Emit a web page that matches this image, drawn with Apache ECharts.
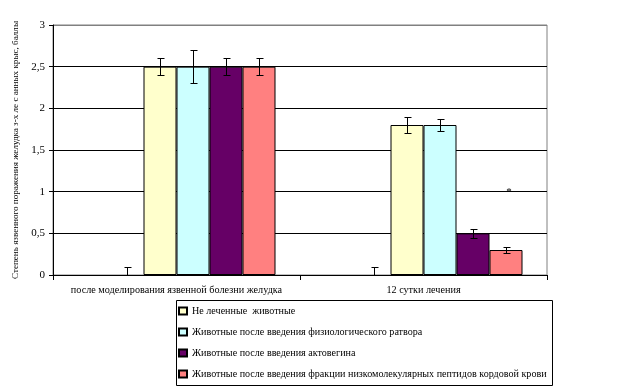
<!DOCTYPE html>
<html><head><meta charset="utf-8">
<script src="https://cdn.jsdelivr.net/npm/echarts@6/dist/echarts.min.js"></script>
<style>html,body{margin:0;padding:0;background:#fff}#c{width:622px;height:387px}</style>
</head><body><div id="c"></div>
<script>
// ---- data ----
const categories = ['после моделирования язвенной болезни желудка', '12 сутки лечения'];
const seriesNames = [
  'Не леченные  животные',
  'Животные после введения физиологического ратвора',
  'Животные после введения актовегина',
  'Животные после введения фракции низкомолекулярных пептидов кордовой крови'
];
const hiddenA = [0, 0];
const hiddenB = [0, 0];
const hiddenBErr = [0.1, 0.1];
const untreated = [2.5, 1.8];
const untreatedErr = [0.1, 0.1];
const saline = [2.5, 1.8];
const salineErr = [0.2, 0.07];
const actovegin = [2.5, 0.5];
const actoveginErr = [0.1, 0.05];
const peptides = [2.5, 0.3];
const peptidesErr = [0.1, 0.04];
const yTickLabels = ['0', '0,5', '1', '1,5', '2', '2,5', '3'];
const yTickValues = [0, 0.5, 1, 1.5, 2, 2.5, 3];
const asteriskCategory = 1;
const asteriskValue = 1.0;

// ---- styles ----
const colors = ['#FFFFCC', '#CCFFFF', '#660066', '#FF8080'];
const FONT = '"Liberation Serif", "Times New Roman", serif';
const BW = 33;
const NSLOTS = 6;

// error bar items: [category, low, high, slot, hasLowCap]
const errItems = [];
function addErr(vals, errs, slot, plusOnly) {
  vals.forEach((v, i) => {
    errItems.push([i, plusOnly ? v : v - errs[i], v + errs[i], slot, plusOnly ? 0 : 1]);
  });
}
addErr(hiddenB, hiddenBErr, 1, true);
addErr(untreated, untreatedErr, 2, false);
addErr(saline, salineErr, 3, false);
addErr(actovegin, actoveginErr, 4, false);
addErr(peptides, peptidesErr, 5, false);

const chart = echarts.init(document.getElementById('c'), null, {renderer: 'canvas'});

function barSeries(name, data, color, hidden) {
  return {
    name: name, type: 'bar', data: data, barWidth: BW, barGap: '0%',
    silent: !!hidden,
    itemStyle: hidden ? {color: 'rgba(0,0,0,0)', borderWidth: 0}
                      : {color: color, borderColor: '#000', borderWidth: 1},
    emphasis: {disabled: true}, animation: false
  };
}

chart.setOption({
  animation: false,
  grid: {left: 53, right: 75, top: 25, bottom: 112, show: true, borderColor: '#808080', borderWidth: 1, backgroundColor: 'transparent'},
  xAxis: {
    type: 'category', data: categories,
    axisLine: {lineStyle: {color: '#000', width: 1}},
    axisTick: {show: true, length: 5, lineStyle: {color: '#000'}},
    axisLabel: {color: '#000', fontFamily: FONT, fontSize: 10.2, margin: 10, interval: 0},
    splitLine: {show: false}
  },
  yAxis: {
    type: 'value', min: 0, max: 3, interval: 0.5,
    name: 'Степень язвенного поражения желудка з-х ле с анных крыс, баллы',
    nameLocation: 'middle', nameRotate: 90, nameGap: 27,
    nameTextStyle: {color: '#000', fontFamily: FONT, fontSize: 9.1},
    axisLine: {show: true, lineStyle: {color: '#000', width: 1}},
    axisTick: {show: true, length: 4, lineStyle: {color: '#000'}},
    axisLabel: {color: '#000', fontFamily: FONT, fontSize: 11, margin: 8,
      formatter: v => { const i = yTickValues.indexOf(v); return i >= 0 ? yTickLabels[i] : ''; }},
    splitLine: {show: true, lineStyle: {color: ['#000', '#000', '#000', '#000', '#000', '#000', '#808080'], width: 1}}
  },
  legend: {
    data: seriesNames, orient: 'vertical', left: 176, top: 306,
    itemWidth: 8, itemHeight: 7, itemGap: 11, padding: [0, 0, 0, 2],
    textStyle: {color: '#000', fontFamily: FONT, fontSize: 10.1},
    icon: 'rect', selectedMode: false
  },
  graphic: [{
    type: 'rect', shape: {x: 176.5, y: 300.5, width: 376, height: 85},
    style: {fill: 'none', stroke: '#000', lineWidth: 1}, silent: true
  }],
  series: [
    barSeries('', hiddenA, null, true),
    barSeries('', hiddenB, null, true),
    barSeries(seriesNames[0], untreated, colors[0]),
    barSeries(seriesNames[1], saline, colors[1]),
    barSeries(seriesNames[2], actovegin, colors[2]),
    barSeries(seriesNames[3], peptides, colors[3]),
    {
      type: 'custom', silent: true, z: 10,
      data: errItems,
      encode: {x: 0, y: [1, 2]},
      renderItem: function (params, api) {
        const cat = api.value(0), lo = api.value(1), hi = api.value(2), slot = api.value(3), lowCap = api.value(4);
        const base = api.coord([cat, 0]);
        const x = Math.round(base[0] + (slot - (NSLOTS - 1) / 2) * BW) + 0.5;
        const yl = Math.round(api.coord([cat, lo])[1]) + 0.5;
        const yh = Math.round(api.coord([cat, hi])[1]) + 0.5;
        const st = {stroke: '#000', lineWidth: 1};
        const ch = [
          {type: 'line', shape: {x1: x, y1: yl, x2: x, y2: yh}, style: st},
          {type: 'line', shape: {x1: x - 3, y1: yh, x2: x + 4, y2: yh}, style: st}
        ];
        if (lowCap) ch.push({type: 'line', shape: {x1: x - 3, y1: yl, x2: x + 4, y2: yl}, style: st});
        return {type: 'group', children: ch};
      }
    },
    {
      type: 'custom', silent: true, z: 10,
      data: [[asteriskCategory, asteriskValue]],
      renderItem: function (params, api) {
        const p = api.coord([api.value(0), api.value(1)]);
        const x = p[0] + ((NSLOTS - 1) / 2) * BW + 3;
        return {type: 'text', style: {text: '*', x: x, y: p[1], fill: '#000', font: '11px ' + FONT, textAlign: 'center', textVerticalAlign: 'middle'}};
      }
    }
  ]
});
</script>
</body></html>
